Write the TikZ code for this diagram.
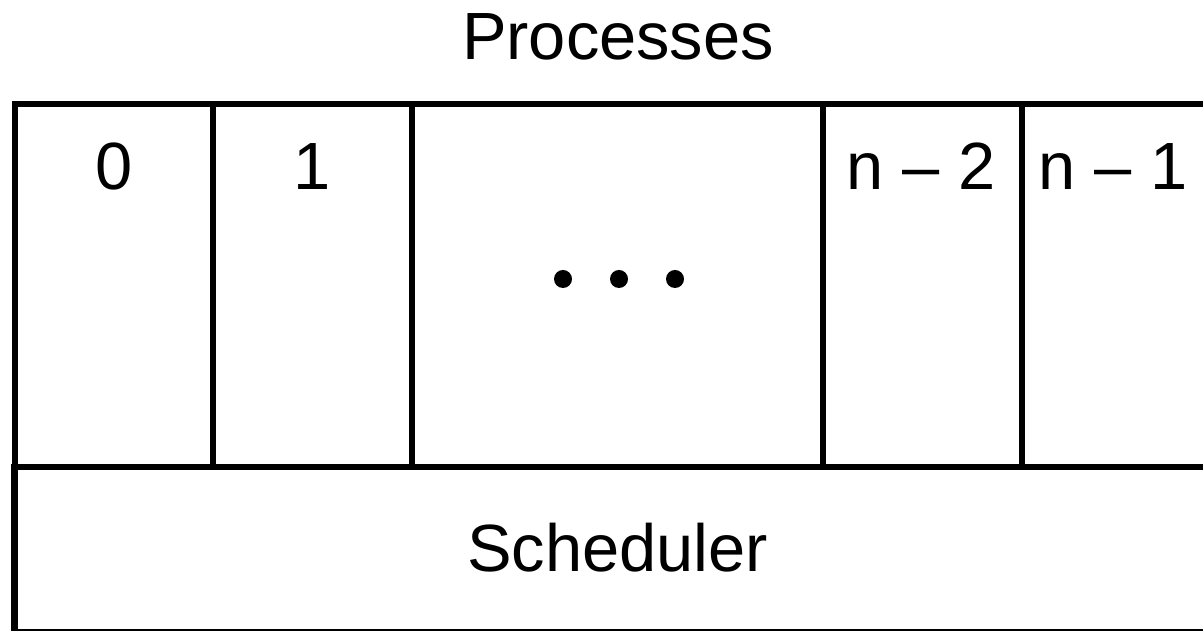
\documentclass[tikz,border=0pt]{standalone}
\usepackage{fontspec}
\setmainfont{Liberation Sans}
\usetikzlibrary{positioning}
\begin{document}
\begin{tikzpicture}[x=0.01cm,y=-0.01cm,
    cell/.style={draw,line width=1.8pt,rectangle,inner sep=0pt,minimum height=3.63cm},
    lbl/.style={anchor=base,font=\fontsize{19}{23}\selectfont}]
    \useasboundingbox (0,0) rectangle (1203,631);
    \clip (0,0) rectangle (1203,631);
    \node[cell,minimum width=1.98cm] (p0) at (114,285.5) {};
    \node[cell,minimum width=1.99cm] (p1) at (312.5,285.5) {};
    \node[cell,minimum width=4.11cm] (pdots) at (617.5,285.5) {};
    \node[cell,minimum width=1.99cm] (pn2) at (922.5,285.5) {};
    \node[cell,minimum width=1.90cm] (pn1) at (1117,285.5) {};
    \foreach \x in {563,619,675}
      \fill (\x,279) circle (9);
    \node[lbl] (l0) at (114,190) {0};
    \node[lbl] (l1) at (312,190) {1};
    \node[lbl] (ln2) at (921,190) {n – 2};
    \node[lbl] (ln1) at (1113,190) {n – 1};
    %
    \node[cell,minimum width=11.97cm,minimum height=1.65cm] (sched) at (613.5,549.5) {};
    \node[lbl] (schedlbl) at (617.5,572) {Scheduler};
    \node[lbl] (proc) at (618,60) {Processes};
\end{tikzpicture}
\end{document}
